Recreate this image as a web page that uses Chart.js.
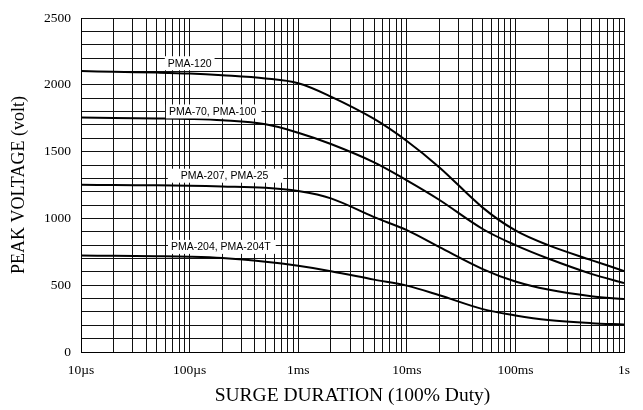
<!DOCTYPE html>
<html>
<head>
<meta charset="utf-8">
<script src="https://cdn.jsdelivr.net/npm/chart.js@4"></script>
<style>
  html, body { margin: 0; padding: 0; background: #fff; }
  #wrap { width: 643px; height: 410px; }
</style>
</head>
<body>
<div id="wrap"><canvas id="myChart" width="643" height="410"></canvas></div>
<script>
// surge duration in seconds
const durations = [1e-5, 2e-5, 5e-5, 1e-4, 2e-4, 5e-4, 1e-3, 2e-3, 5e-3, 1e-2, 2e-2, 5e-2, 0.1, 0.2, 0.5, 1];

// peak voltage per family
const pma120 = [2103, 2098, 2092, 2085, 2072, 2048, 2012, 1912, 1745, 1580, 1382, 1081, 910, 800, 688, 607];
const pma70 = [1755, 1752, 1749, 1745, 1735, 1705, 1642, 1557, 1420, 1285, 1138, 921, 800, 700, 585, 517];
const pma207 = [1252, 1250, 1248, 1245, 1240, 1230, 1205, 1150, 1010, 912, 785, 621, 528, 468, 418, 396];
const pma204 = [722, 720, 717, 713, 703, 675, 645, 605, 542, 497, 425, 321, 274, 240, 216, 206];

const seriesNames = ['PMA-120', 'PMA-70, PMA-100', 'PMA-207, PMA-25', 'PMA-204, PMA-204T'];

// tick labels
const decades = [1e-5, 1e-4, 1e-3, 1e-2, 1e-1, 1];
const decadeLabels = ['10µs', '100µs', '1ms', '10ms', '100ms', '1s'];
const yLabelValues = [0, 500, 1000, 1500, 2000, 2500];

// where the curve names sit (x in seconds, y in volts)
const nameSpots = [
  { x: 6.3e-5, y: 2162, padL: 3, padR: 3 },
  { x: 6.45e-5, y: 1801, padL: 3, padR: 5 },
  { x: 8.3e-5, y: 1320, padL: 13, padR: 15 },
  { x: 6.74e-5, y: 787, padL: 3, padR: 5 }
];

const serif = '"Liberation Serif", "Times New Roman", serif';

const curveNames = {
  id: 'curveNames',
  afterDatasetsDraw(chart) {
    const { ctx, scales } = chart;
    ctx.save();
    ctx.font = '10.5px "Liberation Sans", Arial, sans-serif';
    ctx.textBaseline = 'middle';
    ctx.textAlign = 'left';
    nameSpots.forEach((s, i) => {
      const px = scales.x.getPixelForValue(s.x);
      const py = scales.y.getPixelForValue(s.y);
      const w = ctx.measureText(seriesNames[i]).width;
      ctx.fillStyle = '#fff';
      ctx.fillRect(px - s.padL, py - 7, w + s.padL + s.padR, 14);
      ctx.fillStyle = '#000';
      ctx.fillText(seriesNames[i], px, py + 0.5);
    });
    ctx.restore();
  }
};

const allSeries = [pma120, pma70, pma207, pma204];

new Chart(document.getElementById('myChart'), {
  type: 'line',
  data: {
    datasets: allSeries.map((vals, i) => ({
      label: seriesNames[i],
      data: durations.map((d, j) => ({ x: d, y: vals[j] })),
      borderColor: '#000',
      borderWidth: 2,
      pointRadius: 0,
      fill: false,
      tension: 0.35
    }))
  },
  options: {
    responsive: false,
    animation: false,
    layout: { padding: { top: 12, right: 19, left: 0, bottom: 0 } },
    plugins: {
      legend: { display: false },
      tooltip: { enabled: false }
    },
    scales: {
      x: {
        type: 'logarithmic',
        min: 1e-5,
        max: 1,
        afterFit: (scale) => { scale.height = 58; },
        afterBuildTicks: (scale) => {
          const ticks = [];
          decades.forEach((d, i) => {
            const top = i === decades.length - 1 ? 1 : 9;
            for (let m = 1; m <= top; m++) ticks.push({ value: d * m });
          });
          scale.ticks = ticks;
        },
        grid: { color: '#111', lineWidth: 1, drawTicks: false },
        border: { color: '#000', width: 1 },
        ticks: {
          autoSkip: false,
          maxRotation: 0,
          padding: 10,
          color: '#000',
          font: { family: serif, size: 13.5 },
          callback: (v) => {
            const k = decades.findIndex(d => Math.abs(d - v) / d < 1e-6);
            return k >= 0 ? decadeLabels[k] : '';
          }
        },
        title: {
          display: true,
          text: 'SURGE DURATION (100% Duty)',
          color: '#000',
          font: { family: serif, size: 19.5 },
          padding: { top: 0, bottom: 2 }
        }
      },
      y: {
        min: 0,
        max: 2500,
        afterFit: (scale) => { scale.width = 81; },
        grid: { color: '#111', lineWidth: 1, drawTicks: false },
        border: { color: '#000', width: 1 },
        ticks: {
          stepSize: 100,
          autoSkip: false,
          padding: 10,
          color: '#000',
          font: { family: serif, size: 13.5 },
          callback: (v) => yLabelValues.includes(v) ? String(v) : ''
        },
        title: {
          display: true,
          text: 'PEAK VOLTAGE (volt)',
          color: '#000',
          font: { family: serif, size: 18 },
          padding: { top: 8, bottom: 0 }
        }
      }
    }
  },
  plugins: [curveNames]
});
</script>
</body>
</html>
